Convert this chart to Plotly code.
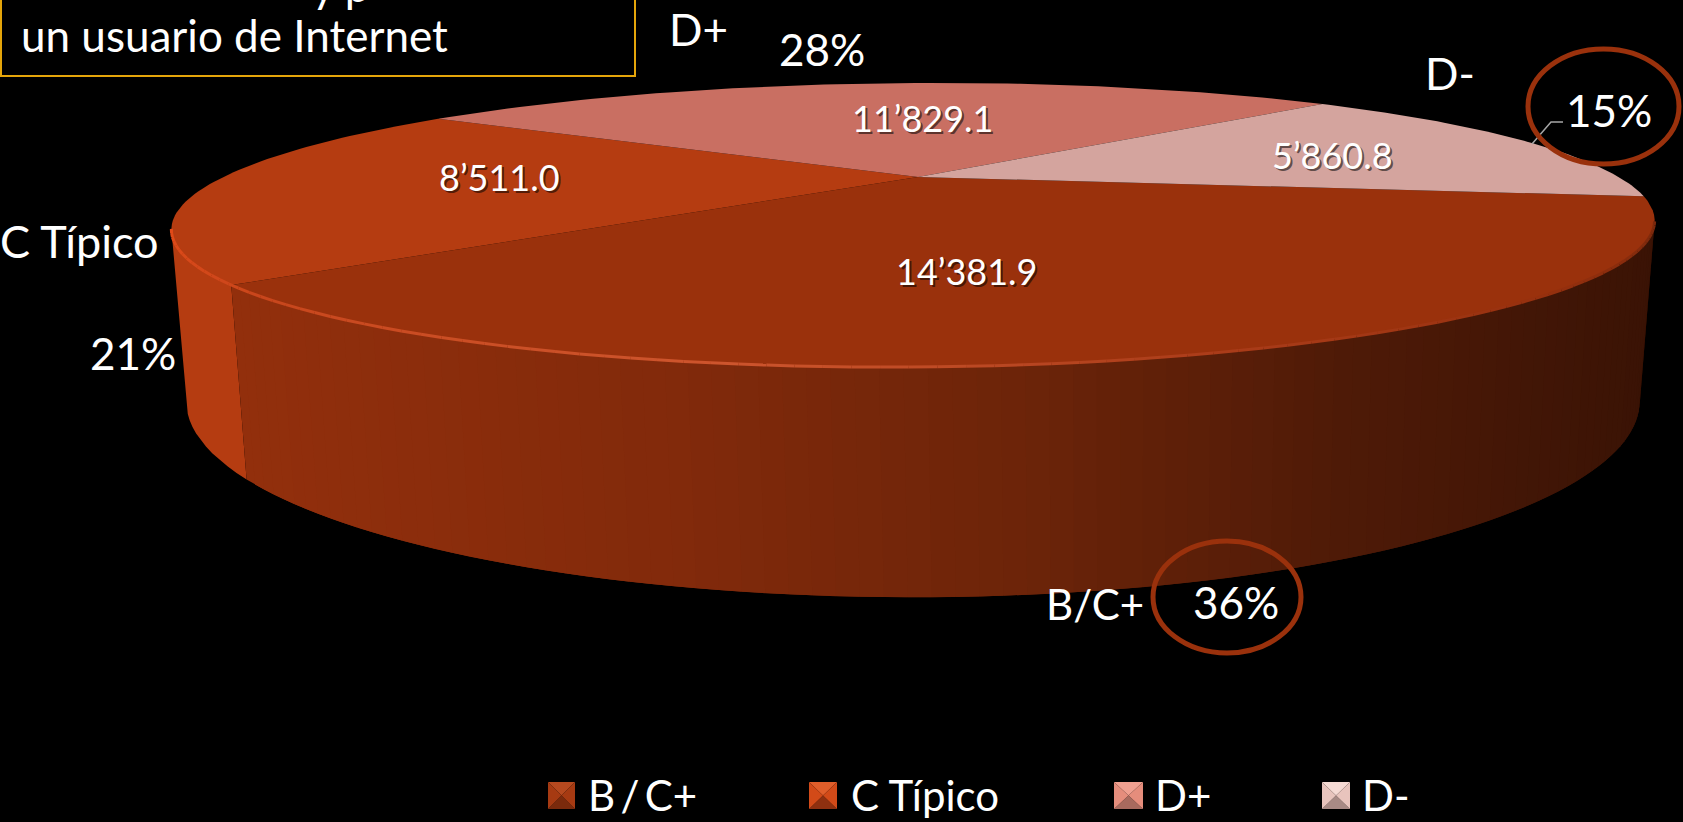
import math
import plotly.graph_objects as go

# ---- data ----
categories = ["B/C+", "C Típico", "D+", "D-"]
legend_labels = ["B\u2009/\u2009C+", "C Típico", "D+", "D-"]
percent_shares = [36, 21, 28, 15]
value_labels = ["14’381.9", "8’511.0", "11’829.1", "5’860.8"]
top_colors = ["#9A310C", "#B53C11", "#C96F62", "#D4A49E"]
swatch_colors = [("#A63A12", "#B5491F", "#7A2A0C"), ("#D24A18", "#E05E2A", "#8E3010"),
                 ("#E58D7C", "#F0A090", "#A86A5E"), ("#E8C4BD", "#F6DAD4", "#A88A85")]

W, H = 1683, 822
START = -9.9          # degrees, first slice starts here and runs clockwise
K = 0.338             # perspective
TOP = dict(cx=913, y0=177, a=698, b=125.8, tilt=-0.005, shear=-0.03)
BASE = dict(cx=913, y0=335, a=684, b=173.6, tilt=0.0, shear=0.0)
FONT = "Lato"


def project(g, deg):
    X, Y = math.cos(math.radians(deg)), math.sin(math.radians(deg))
    d = 1 + K * Y
    x = g["cx"] + g["a"] * X / d
    y = g["y0"] - g["b"] * Y / d
    return (x + g["shear"] * (y - 225), y + g["tilt"] * (x - g["cx"]))


def apex(g):
    return (g["cx"] + 5, g["y0"])


def steps(a0, a1, n):
    return [a0 + (a1 - a0) * i / n for i in range(n + 1)]


def mix(stops, t):
    for (t0, c0), (t1, c1) in zip(stops, stops[1:]):
        if t <= t1:
            f = (t - t0) / (t1 - t0) if t1 > t0 else 0
            rgb = [round(c0[i] + (c1[i] - c0[i]) * f) for i in range(3)]
            return "rgb(%d,%d,%d)" % tuple(rgb)
    return "rgb(%d,%d,%d)" % stops[-1][1]


fig = go.Figure()


def poly(pts, color, lw=0):
    fig.add_trace(go.Scatter(x=[p[0] for p in pts], y=[p[1] for p in pts], mode="lines",
                             fill="toself", fillcolor=color,
                             line=dict(color=color, width=lw), hoverinfo="skip", showlegend=False))


def band(a_list):
    top = [project(TOP, a) for a in a_list]
    base = [project(BASE, a) for a in a_list]
    return top + base[::-1]


# slice boundaries, clockwise from START
bounds = [START]
for p in percent_shares:
    bounds.append(bounds[-1] - p * 3.6)

RIGHT_EXT = -19.8
LEFT_EXT = -160.2

# walls: C Típico (left) and B/C+ (front), shaded across the width
poly(band(steps(bounds[1], LEFT_EXT, 12)), "#B53C11")

wall_stops = [(0.0, (146, 47, 12)), (0.3, (130, 42, 11)), (0.55, (108, 36, 9)),
              (0.78, (78, 26, 7)), (1.0, (58, 19, 5))]
b_ang = steps(bounds[1], RIGHT_EXT, 90)
for i in range(len(b_ang) - 1):
    # each strip reaches one step further, so the next strip paints over its edge and no seam shows
    part = b_ang[i:i + 3]
    xa = project(BASE, part[0])[0]
    poly(band(part), mix(wall_stops, max(0, min(1, (xa - 250) / 1390))))

# top faces
for k in range(4):
    arc = [project(TOP, a) for a in steps(bounds[k], bounds[k + 1], 70)]
    poly([apex(TOP)] + arc + [apex(TOP)], top_colors[k])

# rim highlight along the front edge
rim = steps(LEFT_EXT, RIGHT_EXT, 90)
rim_stops = [(0.0, (226, 74, 24)), (0.18, (200, 70, 28)), (0.42, (205, 85, 45)), (0.62, (170, 60, 25)),
             (0.8, (150, 48, 14)), (1.0, (120, 40, 12))]
for i, (a0, a1) in enumerate(zip(rim, rim[1:])):
    p0, p1 = project(TOP, a0), project(TOP, a1)
    fig.add_trace(go.Scatter(x=[p0[0], p1[0]], y=[p0[1], p1[1]], mode="lines",
                             line=dict(color=mix(rim_stops, i / 90), width=3),
                             hoverinfo="skip", showlegend=False))


def text(x, y, s, size=44, anchor="center", color="white"):
    fig.add_annotation(x=x, y=y, text=s, showarrow=False, xanchor=anchor, yanchor="middle",
                       font=dict(family=FONT, size=size, color=color))


# value labels with soft shadow
value_pos = [(966, 271), (499, 177), (922, 118), (1332, 155)]
for (x, y), s in zip(value_pos, value_labels):
    text(x + 2, y + 2, s, 36, color="rgba(0,0,0,0.55)")
    text(x, y, s, 36)

# category and percent labels
label_pos = [(1095, 604, "center"), (161, 241, "right"), (698, 29, "center"), (1450, 73, "center")]
label_size = [42, 45, 44, 44]
pct_pos = [(1236, 602), (133, 353), (822, 49), (1609, 110)]
for (x, y, an), c, sz, (px, py), p in zip(label_pos, categories, label_size, pct_pos, percent_shares):
    text(x, y, c, sz, an)
    text(px, py, f"{p}%", 44)

# leader line
fig.add_trace(go.Scatter(x=[1532, 1551, 1563], y=[144, 122, 122], mode="lines",
                         line=dict(color="#A6A6A6", width=1.5), hoverinfo="skip", showlegend=False))

# highlight rings
ring = "#9A310C"
fig.add_shape(type="circle", x0=1528, x1=1679, y0=49, y1=164, line=dict(color=ring, width=5))
fig.add_shape(type="circle", x0=1153, x1=1301, y0=541, y1=653, line=dict(color=ring, width=5))

# title box, its first line cut by the page top as in the reference
fig.add_shape(type="rect", x0=1, x1=635, y0=-10, y1=76, line=dict(color="#E5A50A", width=2))
text(19, 35, "un usuario de Internet", 44, "left")
fig.add_annotation(x=341, y=1 + 15 / H, yref="paper", text="y p", showarrow=False, yanchor="middle",
                   font=dict(family=FONT, size=44, color="white"))

# legend
sw_x = [(548, 575), (809, 837), (1114, 1143), (1322, 1350)]
leg_x = [586, 849, 1153, 1360]
for (x0, x1), lx, lab, (mid, hi, lo) in zip(sw_x, leg_x, legend_labels, swatch_colors):
    y0, y1 = 782, 809
    cx_, cy_ = (x0 + x1) / 2, (y0 + y1) / 2
    poly([(x0, y0), (x1, y0), (cx_, cy_)], hi)
    poly([(x0, y1), (x1, y1), (cx_, cy_)], lo)
    poly([(x0, y0), (x0, y1), (cx_, cy_)], mid)
    poly([(x1, y0), (x1, y1), (cx_, cy_)], mid)
    text(lx, 795, lab, 42, "left")

fig.update_layout(width=W, height=H, margin=dict(l=0, r=0, t=0, b=0), paper_bgcolor="black",
                  plot_bgcolor="black", showlegend=False,
                  xaxis=dict(range=[0, W], visible=False, fixedrange=True),
                  yaxis=dict(range=[H, 0], visible=False, fixedrange=True))
fig.write_html("out.html", config={"displayModeBar": False},
               post_script="document.body.style.margin='0';document.body.style.background='#000';")
